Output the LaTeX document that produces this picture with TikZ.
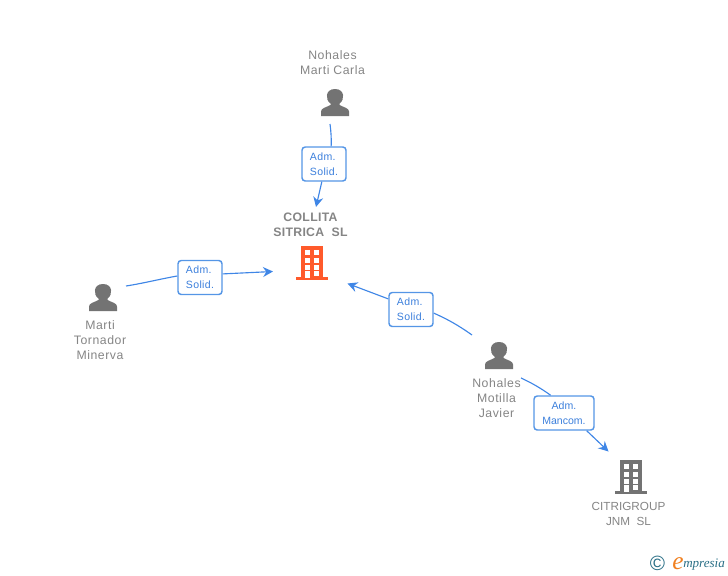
\documentclass[tikz,border=0pt]{standalone}
\usepackage{fontspec}
\setmainfont{Liberation Sans}
\newfontfamily\logofont{Liberation Serif}
\usetikzlibrary{arrows.meta}
\definecolor{linkblue}{HTML}{3F86E6}
\definecolor{boxblue}{HTML}{5596E6}
\definecolor{labelblue}{HTML}{3B7FDC}
\definecolor{textgrey}{HTML}{858585}
\definecolor{icongrey}{HTML}{737373}
\definecolor{orangeicon}{HTML}{FF5A2B}
\definecolor{logoteal}{HTML}{2A6F86}
\definecolor{logoorange}{HTML}{F08020}
\tikzset{
  x=0.75pt,y=-0.75pt,
  conn/.style={draw=linkblue,line width=0.85pt},
  connarrow/.style={conn,-{Stealth[length=7.5pt,width=7.5pt,inset=2.5pt]}},
  relbox/.style={draw=boxblue,line width=1.1pt,rounded corners=2.4pt,fill=white,
    minimum height=25.5pt,inner sep=0pt,align=center,text=labelblue,
    font=\fontsize{7.9pt}{11.2pt}\selectfont},
  solidbox/.style={relbox,minimum width=33pt,align=left,
    font=\fontsize{7.9pt}{11.2pt}\selectfont\addfontfeature{LetterSpace=3.5}},
  nametext/.style={align=center,text=textgrey,
    font=\fontsize{9.2pt}{11.25pt}\selectfont\addfontfeature{LetterSpace=4.5}},
  companytext/.style={align=center,text=textgrey,font=\fontsize{8.8pt}{11.25pt}\selectfont},
  companybold/.style={companytext,
    font=\fontsize{9.2pt}{11.25pt}\selectfont\bfseries\addfontfeature{LetterSpace=2.5}},
  pics/personicon/.style={code={
    \fill[icongrey] (-14,27) -- (-14,22.5) .. controls (-14,19) and (-9,18.5) .. (-4.5,16)
      -- (-4.5,14.5) .. controls (-10,11) and (-10,0) .. (0,0)
      .. controls (10,0) and (10,11) .. (4.5,14.5) -- (4.5,16)
      .. controls (9,18.5) and (14,19) .. (14,22.5) -- (14,27) -- cycle;
  }},
  pics/buildingicon/.style={code={
    \fill[#1] (0,0) rectangle (22,32);
    \fill[#1] (-5,31) rectangle (27,34);
    \foreach \wx in {3.8,12.8}{
      \foreach \wy in {4,11.5,18.5}{
        \fill[white] (\wx,\wy) rectangle +(5.5,5);
      }
    }
    \fill[white] (12.8,24.5) rectangle +(5.5,5);
    \fill[white] (3.8,24.5) rectangle (9.3,32);
  }},
}
\begin{document}
\begin{tikzpicture}
\useasboundingbox (0,0) rectangle (728,575);

% people and companies
\pic at (335,89) {personicon};
\pic at (103,284) {personicon};
\pic at (499,342) {personicon};
\pic at (301,246) {buildingicon=orangeicon};
\pic at (620,460) {buildingicon=icongrey};

% texts
\node[nametext] (carla) at (332.5,62.5) {Nohales\\Marti Carla};
\node[nametext] (minerva) at (100,340) {Marti\\Tornador\\Minerva};
\node[nametext] (javier) at (496.5,398) {Nohales\\Motilla\\Javier};
\node[companybold] (collita) at (310.5,224.5) {COLLITA\\SITRICA\ \ SL};
\node[companytext] (citri) at (628.5,514) {CITRIGROUP\\JNM\ \ SL};

% relation boxes
\node[solidbox] (b1) at (324,164) {Adm.\\Solid.};
\node[solidbox] (b2) at (200,277.5) {Adm.\\Solid.};
\node[solidbox] (b3) at (411,309.5) {Adm.\\Solid.};
\node[relbox,minimum width=45pt] (b4) at (564,413) {Adm.\\Mancom.};

% free ends of connectors
\coordinate (s1) at (330,124);
\coordinate (e1) at (316,207);
\coordinate (s2) at (126,286);
\coordinate (e2) at (273,271.5);
\coordinate (s3) at (472,335);
\coordinate (e3) at (347.5,283.5);
\coordinate (s4) at (521,378);
\coordinate (e4) at (608.5,451.5);

% connectors
\draw[conn] (s1) .. controls (331,131) and (331.5,139) .. (b1.68);
\draw[connarrow] (b1.263) -- (e1);
\draw[conn] (s2) .. controls (145,283) and (160,279) .. (b2.west |- 0,276);
\draw[connarrow] (b2.9) -- (e2);
\draw[conn] (s3) .. controls (458,325) and (447,319) .. (b3.-9);
\draw[connarrow] (b3.155) -- (e3);
\draw[conn] (s4) .. controls (532,383) and (542,389) .. (b4.127);
\draw[connarrow] (b4.-38) -- (e4);

% logo
\node[text=logoteal,font=\fontsize{15.5pt}{15.5pt}\selectfont] (copy) at (657.5,563.5) {©};
\node[text=logoorange,font=\logofont\itshape\fontsize{19pt}{19pt}\selectfont,anchor=base,inner sep=0pt] (loge) at (678,569.5) {e};
\node[text=logoteal,font=\logofont\itshape\fontsize{9.8pt}{10pt}\selectfont,anchor=base west,inner sep=0pt] (logt) at (683,567.5) {mpresia};
\end{tikzpicture}
\end{document}
